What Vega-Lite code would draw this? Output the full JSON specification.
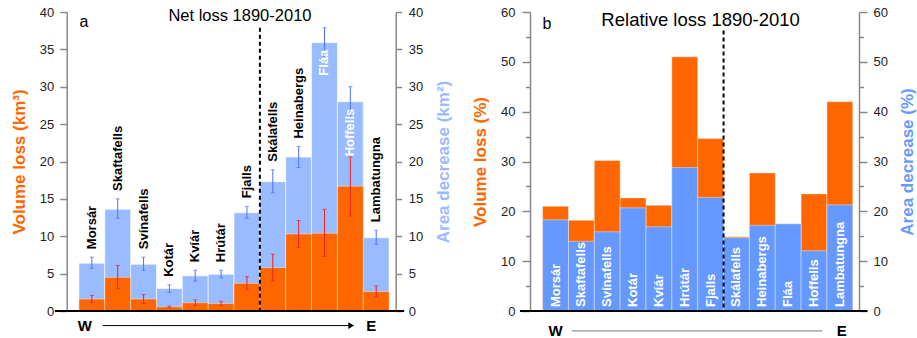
{
  "$schema": "https://vega.github.io/schema/vega-lite/v6.json",
  "autosize": {"type": "none"},
  "padding": {"left": 66.7, "top": 12, "right": 850.3, "bottom": 27},
  "bounds": "flush",
  "spacing": 134.3,
  "background": "white",
  "config": {
    "view": {"stroke": null},
    "font": "Liberation Sans",
    "axis": {
      "grid": false,
      "domainColor": "#888888",
      "domainWidth": 1.5,
      "tickColor": "#888888",
      "tickWidth": 1.5,
      "labelColor": "#222222",
      "labelFont": "Liberation Sans",
      "labelFontSize": 13,
      "titleFont": "Liberation Sans",
      "titleFontSize": 17,
      "titleFontWeight": "bold"
    },
    "text": {"font": "Liberation Sans"}
  },
  "data": {
    "values": [
      {"name": "Morsár", "vol": 1.6, "vol_lo": 1.1, "vol_hi": 2.1, "area": 6.4, "area_lo": 5.7, "area_hi": 7.2, "relvol": 21.0, "relarea": 18.3},
      {"name": "Skaftafells", "vol": 4.5, "vol_lo": 3.0, "vol_hi": 6.1, "area": 13.6, "area_lo": 12.4, "area_hi": 15.0, "relvol": 18.2, "relarea": 14.0},
      {"name": "Svínafells", "vol": 1.6, "vol_lo": 1.0, "vol_hi": 2.2, "area": 6.25, "area_lo": 5.45, "area_hi": 7.2, "relvol": 30.2, "relarea": 15.9},
      {"name": "Kotár", "vol": 0.55, "vol_lo": 0.4, "vol_hi": 0.65, "area": 3.0, "area_lo": 2.5, "area_hi": 3.5, "relvol": 22.7, "relarea": 20.7},
      {"name": "Kvíár", "vol": 1.1, "vol_lo": 0.7, "vol_hi": 1.5, "area": 4.7, "area_lo": 4.0, "area_hi": 5.45, "relvol": 21.2, "relarea": 16.9},
      {"name": "Hrútár", "vol": 1.0, "vol_lo": 0.7, "vol_hi": 1.3, "area": 4.9, "area_lo": 4.45, "area_hi": 5.45, "relvol": 51.0, "relarea": 28.8},
      {"name": "Fjalls", "vol": 3.7, "vol_lo": 2.9, "vol_hi": 4.6, "area": 13.15, "area_lo": 12.4, "area_hi": 14.0, "relvol": 34.6, "relarea": 22.8},
      {"name": "Skálafells", "vol": 5.8, "vol_lo": 4.0, "vol_hi": 7.6, "area": 17.3, "area_lo": 15.8, "area_hi": 18.9, "relvol": 14.9, "relarea": 14.7},
      {"name": "Heinabergs", "vol": 10.3, "vol_lo": 8.5, "vol_hi": 12.1, "area": 20.6, "area_lo": 19.2, "area_hi": 22.0, "relvol": 27.7, "relarea": 17.2},
      {"name": "Fláa", "vol": 10.4, "vol_lo": 7.3, "vol_hi": 13.6, "area": 35.9, "area_lo": 34.0, "area_hi": 37.9, "relvol": 15.0, "relarea": 17.5},
      {"name": "Hoffells", "vol": 16.7, "vol_lo": 12.7, "vol_hi": 20.6, "area": 28.0, "area_lo": 26.0, "area_hi": 30.0, "relvol": 23.5, "relarea": 12.1},
      {"name": "Lambatungna", "vol": 2.6, "vol_lo": 1.9, "vol_hi": 3.35, "area": 9.8, "area_lo": 8.9, "area_hi": 10.8, "relvol": 42.0, "relarea": 21.3}
    ]
  },
  "hconcat": [
    {
      "width": 329,
      "height": 299,
      "resolve": {"axis": {"y": "independent"}},
      "layer": [
        {
          "mark": {"type": "bar", "color": "#99bbff", "stroke": "#ffffff", "strokeWidth": 1, "strokeOpacity": 0.6},
          "encoding": {
            "x": {"field": "name", "type": "nominal", "scale": {"domain": ["Morsár","Skaftafells","Svínafells","Kotár","Kvíár","Hrútár","Fjalls","Skálafells","Heinabergs","Fláa","Hoffells","Lambatungna"], "paddingInner": 0, "paddingOuter": 0.364, "align": 0.65}, "axis": null},
            "y": {"field": "area", "type": "quantitative", "scale": {"domain": [0, 40], "nice": false},
              "axis": {"orient": "right", "title": "Area decrease (km²)", "titleColor": "#99bbff", "values": [0,5,10,15,20,25,30,35,40], "tickSize": 6, "labelPadding": 6.5, "titleAngle": 270, "titleBaseline": "top", "titlePadding": 13}}
          }
        },
        {
          "mark": {"type": "bar", "color": "#ff6600", "stroke": "#ffffff", "strokeWidth": 1, "strokeOpacity": 0.4},
          "encoding": {
            "x": {"field": "name", "type": "nominal", "scale": {"domain": ["Morsár","Skaftafells","Svínafells","Kotár","Kvíár","Hrútár","Fjalls","Skálafells","Heinabergs","Fláa","Hoffells","Lambatungna"], "paddingInner": 0, "paddingOuter": 0.364, "align": 0.65}, "axis": null},
            "y": {"field": "vol", "type": "quantitative", "scale": {"domain": [0, 40], "nice": false},
              "axis": {"orient": "left", "title": "Volume loss (km³)", "titleColor": "#ff6600", "values": [0,5,10,15,20,25,30,35,40], "tickSize": 7, "labelPadding": 6, "titlePadding": 11}}
          }
        },
        {
          "mark": {"type": "rule", "color": "#5070ff", "strokeWidth": 1},
          "encoding": {
            "x": {"field": "name", "type": "nominal", "axis": null},
            "y": {"field": "area_lo", "type": "quantitative", "axis": null},
            "y2": {"field": "area_hi"}
          }
        },
        {
          "mark": {"type": "tick", "color": "#5070ff", "size": 4, "thickness": 1},
          "encoding": {
            "x": {"field": "name", "type": "nominal", "axis": null},
            "y": {"field": "area_lo", "type": "quantitative", "axis": null}
          }
        },
        {
          "mark": {"type": "tick", "color": "#5070ff", "size": 4, "thickness": 1},
          "encoding": {
            "x": {"field": "name", "type": "nominal", "axis": null},
            "y": {"field": "area_hi", "type": "quantitative", "axis": null}
          }
        },
        {
          "mark": {"type": "rule", "color": "#ee2222", "strokeWidth": 1},
          "encoding": {
            "x": {"field": "name", "type": "nominal", "axis": null},
            "y": {"field": "vol_lo", "type": "quantitative", "axis": null},
            "y2": {"field": "vol_hi"}
          }
        },
        {
          "mark": {"type": "tick", "color": "#ee2222", "size": 4, "thickness": 1},
          "encoding": {
            "x": {"field": "name", "type": "nominal", "axis": null},
            "y": {"field": "vol_lo", "type": "quantitative", "axis": null}
          }
        },
        {
          "mark": {"type": "tick", "color": "#ee2222", "size": 4, "thickness": 1},
          "encoding": {
            "x": {"field": "name", "type": "nominal", "axis": null},
            "y": {"field": "vol_hi", "type": "quantitative", "axis": null}
          }
        },
        {
          "transform": [{"filter": "datum.name !== 'Fláa' && datum.name !== 'Hoffells'"}],
          "mark": {"type": "text", "angle": 270, "align": "left", "baseline": "middle", "dx": 8, "fontSize": 13, "fontWeight": "bold", "color": "#000000"},
          "encoding": {
            "x": {"field": "name", "type": "nominal", "axis": null},
            "y": {"field": "area_hi", "type": "quantitative", "axis": null},
            "text": {"field": "name"}
          }
        },
        {
          "transform": [{"filter": "datum.name === 'Fláa' || datum.name === 'Hoffells'"}],
          "mark": {"type": "text", "angle": 270, "align": "right", "baseline": "middle", "dx": -7, "fontSize": 13, "fontWeight": "bold", "color": "#ffffff"},
          "encoding": {
            "x": {"field": "name", "type": "nominal", "axis": null},
            "y": {"field": "area", "type": "quantitative", "axis": null},
            "text": {"field": "name"}
          }
        },
        {
          "data": {"values": [{}]},
          "mark": {"type": "rule", "color": "#000000", "strokeWidth": 2, "strokeDash": [4, 3], "xOffset": -12.9},
          "encoding": {
            "x": {"datum": "Skálafells", "type": "nominal", "axis": null},
            "y": {"datum": 37.9, "type": "quantitative", "axis": null},
            "y2": {"datum": 0}
          }
        },
        {
          "data": {"values": [{}]},
          "mark": {"type": "rule", "color": "#000000", "strokeWidth": 2, "xOffset": -37, "x2Offset": 28},
          "encoding": {
            "x": {"datum": "Morsár", "type": "nominal", "axis": null},
            "x2": {"datum": "Lambatungna"},
            "y": {"datum": 0, "type": "quantitative", "axis": null}
          }
        },
        {
          "data": {"values": [{}]},
          "mark": {"type": "rule", "color": "#000000", "strokeWidth": 1, "xOffset": 11, "x2Offset": -26},
          "encoding": {
            "x": {"datum": "Morsár", "type": "nominal", "axis": null},
            "x2": {"datum": "Lambatungna"},
            "y": {"datum": -1.95, "type": "quantitative", "axis": null}
          }
        },
        {
          "data": {"values": [{}]},
          "mark": {"type": "point", "shape": "triangle-right", "filled": true, "color": "#000000", "size": 45, "opacity": 1, "xOffset": -25},
          "encoding": {
            "x": {"datum": "Lambatungna", "type": "nominal", "axis": null},
            "y": {"datum": -1.95, "type": "quantitative", "axis": null}
          }
        },
        {
          "data": {"values": [{}]},
          "mark": {"type": "text", "text": "W", "fontSize": 15, "fontWeight": "bold", "color": "#000000", "baseline": "middle", "align": "center", "dx": -7},
          "encoding": {
            "x": {"datum": "Morsár", "type": "nominal", "axis": null},
            "y": {"datum": -2, "type": "quantitative", "axis": null}
          }
        },
        {
          "data": {"values": [{}]},
          "mark": {"type": "text", "text": "E", "fontSize": 15, "fontWeight": "bold", "color": "#000000", "baseline": "middle", "align": "center", "dx": -5},
          "encoding": {
            "x": {"datum": "Lambatungna", "type": "nominal", "axis": null},
            "y": {"datum": -2, "type": "quantitative", "axis": null}
          }
        },
        {
          "data": {"values": [{}]},
          "mark": {"type": "text", "text": "a", "fontSize": 16, "color": "#000000", "baseline": "middle", "align": "center", "dx": -8},
          "encoding": {
            "x": {"datum": "Morsár", "type": "nominal", "axis": null},
            "y": {"datum": 38.6, "type": "quantitative", "axis": null}
          }
        },
        {
          "data": {"values": [{}]},
          "mark": {"type": "text", "text": "Net loss 1890-2010", "fontSize": 16.5, "color": "#000000", "baseline": "middle", "align": "center", "dx": -7},
          "encoding": {
            "x": {"datum": "Fjalls", "type": "nominal", "axis": null},
            "y": {"datum": 39.5, "type": "quantitative", "axis": null}
          }
        }
      ]
    },
    {
      "width": 329,
      "height": 299,
      "resolve": {"axis": {"y": "independent"}},
      "layer": [
        {
          "mark": {"type": "bar", "color": "#ff6600", "stroke": "#ffffff", "strokeWidth": 1, "strokeOpacity": 0.4},
          "encoding": {
            "x": {"field": "name", "type": "nominal", "scale": {"domain": ["Morsár","Skaftafells","Svínafells","Kotár","Kvíár","Hrútár","Fjalls","Skálafells","Heinabergs","Fláa","Hoffells","Lambatungna"], "paddingInner": 0, "paddingOuter": 0.364, "align": 0.67}, "axis": null},
            "y": {"field": "relvol", "type": "quantitative", "scale": {"domain": [0, 60], "nice": false},
              "axis": {"orient": "left", "title": "Volume loss (%)", "titleColor": "#ff6600", "values": [0,5,10,15,20,25,30,35,40,45,50,55,60], "labelExpr": "datum.value % 10 === 0 ? datum.label : ''", "tickSize": {"condition": {"test": "datum.value % 10 === 0", "value": 8}, "value": 4.5}, "labelPadding": 7, "titlePadding": 11}}
          }
        },
        {
          "mark": {"type": "bar", "color": "#6699ff", "stroke": "#ffffff", "strokeWidth": 1, "strokeOpacity": 0.4},
          "encoding": {
            "x": {"field": "name", "type": "nominal", "axis": null},
            "y": {"field": "relarea", "type": "quantitative", "scale": {"domain": [0, 60], "nice": false},
              "axis": {"orient": "right", "title": "Area decrease (%)", "titleColor": "#6699ff", "values": [0,5,10,15,20,25,30,35,40,45,50,55,60], "labelExpr": "datum.value % 10 === 0 ? datum.label : ''", "tickSize": {"condition": {"test": "datum.value % 10 === 0", "value": 8}, "value": 4.5}, "labelPadding": 6, "titleAngle": 270, "titleBaseline": "top", "titlePadding": 12.5}}
          }
        },
        {
          "mark": {"type": "text", "angle": 270, "align": "left", "baseline": "middle", "dx": 4, "fontSize": 13, "fontWeight": "bold", "color": "#ffffff"},
          "encoding": {
            "x": {"field": "name", "type": "nominal", "axis": null},
            "y": {"datum": 0, "type": "quantitative", "axis": null},
            "text": {"field": "name"}
          }
        },
        {
          "data": {"values": [{}]},
          "mark": {"type": "rule", "color": "#000000", "strokeWidth": 2, "strokeDash": [4, 3], "xOffset": -12.9},
          "encoding": {
            "x": {"datum": "Skálafells", "type": "nominal", "axis": null},
            "y": {"datum": 56.3, "type": "quantitative", "axis": null},
            "y2": {"datum": 0}
          }
        },
        {
          "data": {"values": [{}]},
          "mark": {"type": "rule", "color": "#000000", "strokeWidth": 2, "xOffset": -35.6, "x2Offset": 27.6},
          "encoding": {
            "x": {"datum": "Morsár", "type": "nominal", "axis": null},
            "x2": {"datum": "Lambatungna"},
            "y": {"datum": 0, "type": "quantitative", "axis": null}
          }
        },
        {
          "data": {"values": [{}]},
          "mark": {"type": "rule", "color": "#777777", "strokeWidth": 1, "xOffset": 16.4, "x2Offset": -17.4},
          "encoding": {
            "x": {"datum": "Morsár", "type": "nominal", "axis": null},
            "x2": {"datum": "Lambatungna"},
            "y": {"datum": -4.0, "type": "quantitative", "axis": null}
          }
        },
        {
          "data": {"values": [{}]},
          "mark": {"type": "text", "text": "W", "fontSize": 15, "fontWeight": "bold", "color": "#000000", "baseline": "middle", "align": "center", "dx": 0},
          "encoding": {
            "x": {"datum": "Morsár", "type": "nominal", "axis": null},
            "y": {"datum": -4.0, "type": "quantitative", "axis": null}
          }
        },
        {
          "data": {"values": [{}]},
          "mark": {"type": "text", "text": "E", "fontSize": 15, "fontWeight": "bold", "color": "#000000", "baseline": "middle", "align": "center", "dx": 2},
          "encoding": {
            "x": {"datum": "Lambatungna", "type": "nominal", "axis": null},
            "y": {"datum": -4.0, "type": "quantitative", "axis": null}
          }
        },
        {
          "data": {"values": [{}]},
          "mark": {"type": "text", "text": "b", "fontSize": 16, "color": "#000000", "baseline": "middle", "align": "center", "dx": -8.6},
          "encoding": {
            "x": {"datum": "Morsár", "type": "nominal", "axis": null},
            "y": {"datum": 57.5, "type": "quantitative", "axis": null}
          }
        },
        {
          "data": {"values": [{}]},
          "mark": {"type": "text", "text": "Relative loss 1890-2010", "fontSize": 18.5, "color": "#000000", "baseline": "middle", "align": "center", "dx": -10},
          "encoding": {
            "x": {"datum": "Fjalls", "type": "nominal", "axis": null},
            "y": {"datum": 58.3, "type": "quantitative", "axis": null}
          }
        }
      ]
    }
  ]
}
